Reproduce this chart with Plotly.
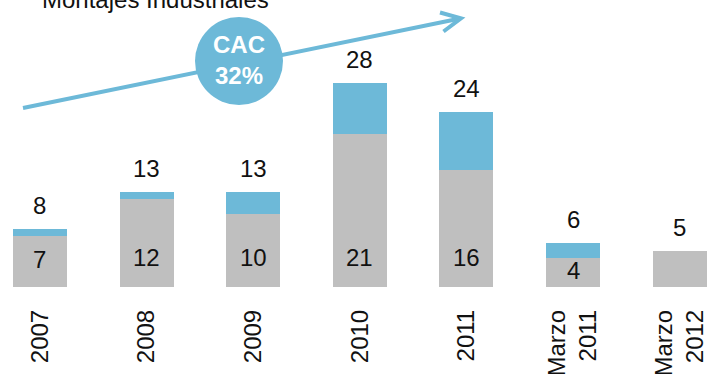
import plotly.graph_objects as go

# Montajes Industriales: units per period, split into base (gray) and increment (blue)
categories = ["2007", "2008", "2009", "2010", "2011", "Marzo<br>2011", "Marzo<br>2012"]
base_values = [7, 12, 10, 21, 16, 4, 5]
totals = [8, 13, 13, 28, 24, 6, 5]
base_labels = ["7", "12", "10", "21", "16", "4", ""]
growth_text = "CAC<br>32%"
title_text = "Montajes Industriales"

extra_values = [t - b for t, b in zip(totals, base_values)]

BLUE = "#6db9d8"
GRAY = "#bfbfbf"
FONT = "Liberation Sans, Arial, sans-serif"

W, H = 711, 374
BOTTOM = 87
PLOT_H = H - BOTTOM

fig = go.Figure()
fig.add_trace(go.Bar(x=categories, y=base_values, marker=dict(color=GRAY, line=dict(width=0)),
                     width=0.507, hoverinfo="skip"))
fig.add_trace(go.Bar(x=categories, y=extra_values, marker=dict(color=BLUE, line=dict(width=0)),
                     width=0.507, hoverinfo="skip"))

annotations = []
# totals above each bar (x given as category index)
for i, t in enumerate(totals):
    annotations.append(dict(x=i, y=t, text=str(t), showarrow=False, yanchor="bottom",
                            yshift=8, font=dict(size=24, color="#111111", family=FONT)))
# base values near the foot of each gray segment
for i, (b, lab) in enumerate(zip(base_values, base_labels)):
    if lab:
        annotations.append(dict(x=i, y=min(b / 2, 3.8), text=lab, showarrow=False,
                                yanchor="middle", yshift=2,
                                font=dict(size=24, color="#111111", family=FONT)))

def px(x):
    return x / W

def py(y):
    return 1 - y / PLOT_H

# title, partly above the visible page
annotations.append(dict(xref="paper", yref="paper", x=px(40), y=1, xanchor="left", yanchor="bottom",
                        yshift=-15, text=title_text, showarrow=False,
                        font=dict(size=24, color="#111111", family=FONT)))
# growth badge text
annotations.append(dict(xref="paper", yref="paper", x=px(239), y=py(60), xanchor="center",
                        yanchor="middle", text="<b>" + growth_text.replace("<br>", "</b><br><b>") + "</b>",
                        showarrow=False, font=dict(size=24, color="white", family=FONT)))

shapes = [
    # trend arrow shaft
    dict(type="line", xref="paper", yref="paper", x0=px(23), y0=py(108), x1=px(460), y1=py(18.5),
         line=dict(color=BLUE, width=4), layer="below"),
    # arrow head
    dict(type="path", xref="paper", yref="paper",
         path=f"M {px(440)} {py(12.5)} L {px(461)} {py(18.3)} L {px(443.5)} {py(31.5)}",
         line=dict(color=BLUE, width=4)),
    # badge circle
    dict(type="circle", xref="paper", yref="paper", x0=px(195), x1=px(283), y0=py(17), y1=py(105),
         fillcolor=BLUE, line=dict(width=0)),
]

fig.update_layout(
    width=W, height=H,
    margin=dict(l=0, r=0, t=0, b=BOTTOM, autoexpand=False),
    paper_bgcolor="white", plot_bgcolor="white",
    barmode="stack", showlegend=False,
    annotations=annotations, shapes=shapes,
    xaxis=dict(type="category", range=[-0.375, 6.294], tickangle=-90, showgrid=False,
               zeroline=False, showline=False, ticks="", ticklabelstandoff=17, automargin=False,
               tickfont=dict(size=24, color="#111111", family=FONT)),
    yaxis=dict(range=[0, PLOT_H / 7.3], visible=False, showgrid=False, zeroline=False,
               automargin=False),
)

fig.write_html("out.html")
